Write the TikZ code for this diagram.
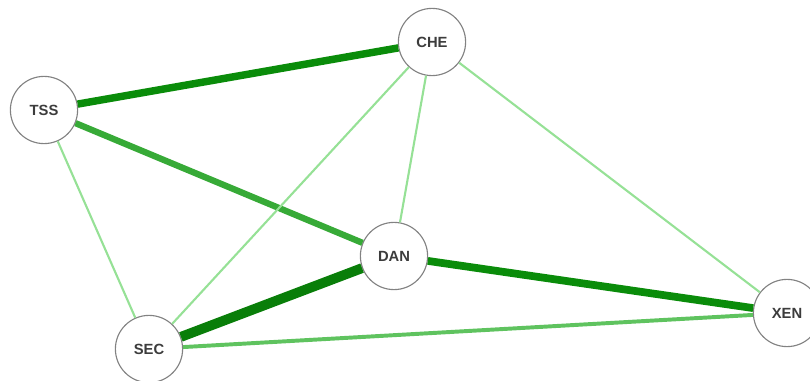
\documentclass[tikz,border=0pt]{standalone}
\usepackage{fontspec}
\setmainfont{Liberation Sans}
\usepackage{tikz}
\usetikzlibrary{arrows.meta,positioning,calc}

\definecolor{strong}{RGB}{10,140,10}
\definecolor{medium}{RGB}{55,170,55}
\definecolor{mild}{RGB}{95,195,95}
\definecolor{weak}{RGB}{150,225,150}
\definecolor{ringgray}{RGB}{130,130,130}
\definecolor{labelgray}{RGB}{60,60,60}

\begin{document}
\begin{tikzpicture}[
  x=0.025cm, y=-0.025cm,
  font=\fontsize{10.5}{12}\selectfont\bfseries,
  party/.style={circle, draw=ringgray, line width=0.8pt, fill=white, minimum size=1.68cm, inner sep=0pt, text=labelgray},
  tie/.style={line width=#1}
]
\useasboundingbox (0,0) rectangle (810,381);

\node[party] (che) at (432,42) {CHE};
\node[party] (tss) at (44,110) {TSS};
\node[party] (dan) at (394,256) {DAN};
\node[party] (sec) at (149,349) {SEC};
\node[party] (xen) at (787,313) {XEN};

\draw[strong, tie=5.3pt] (tss) -- (che);
\draw[strong!90!black, tie=7pt] (dan) -- (sec);
\draw[strong, tie=5.5pt] (dan) -- (xen);
\draw[medium, tie=4.5pt] (tss) -- (dan);
\draw[mild, tie=2.8pt] (sec) -- (xen);
\draw[weak, tie=1.5pt] (tss) -- (sec);
\draw[weak, tie=1.5pt] (che) -- (sec);
\draw[weak, tie=1.5pt] (che) -- (dan);
\draw[weak, tie=1.5pt] (che) -- (xen);
\end{tikzpicture}
\end{document}
